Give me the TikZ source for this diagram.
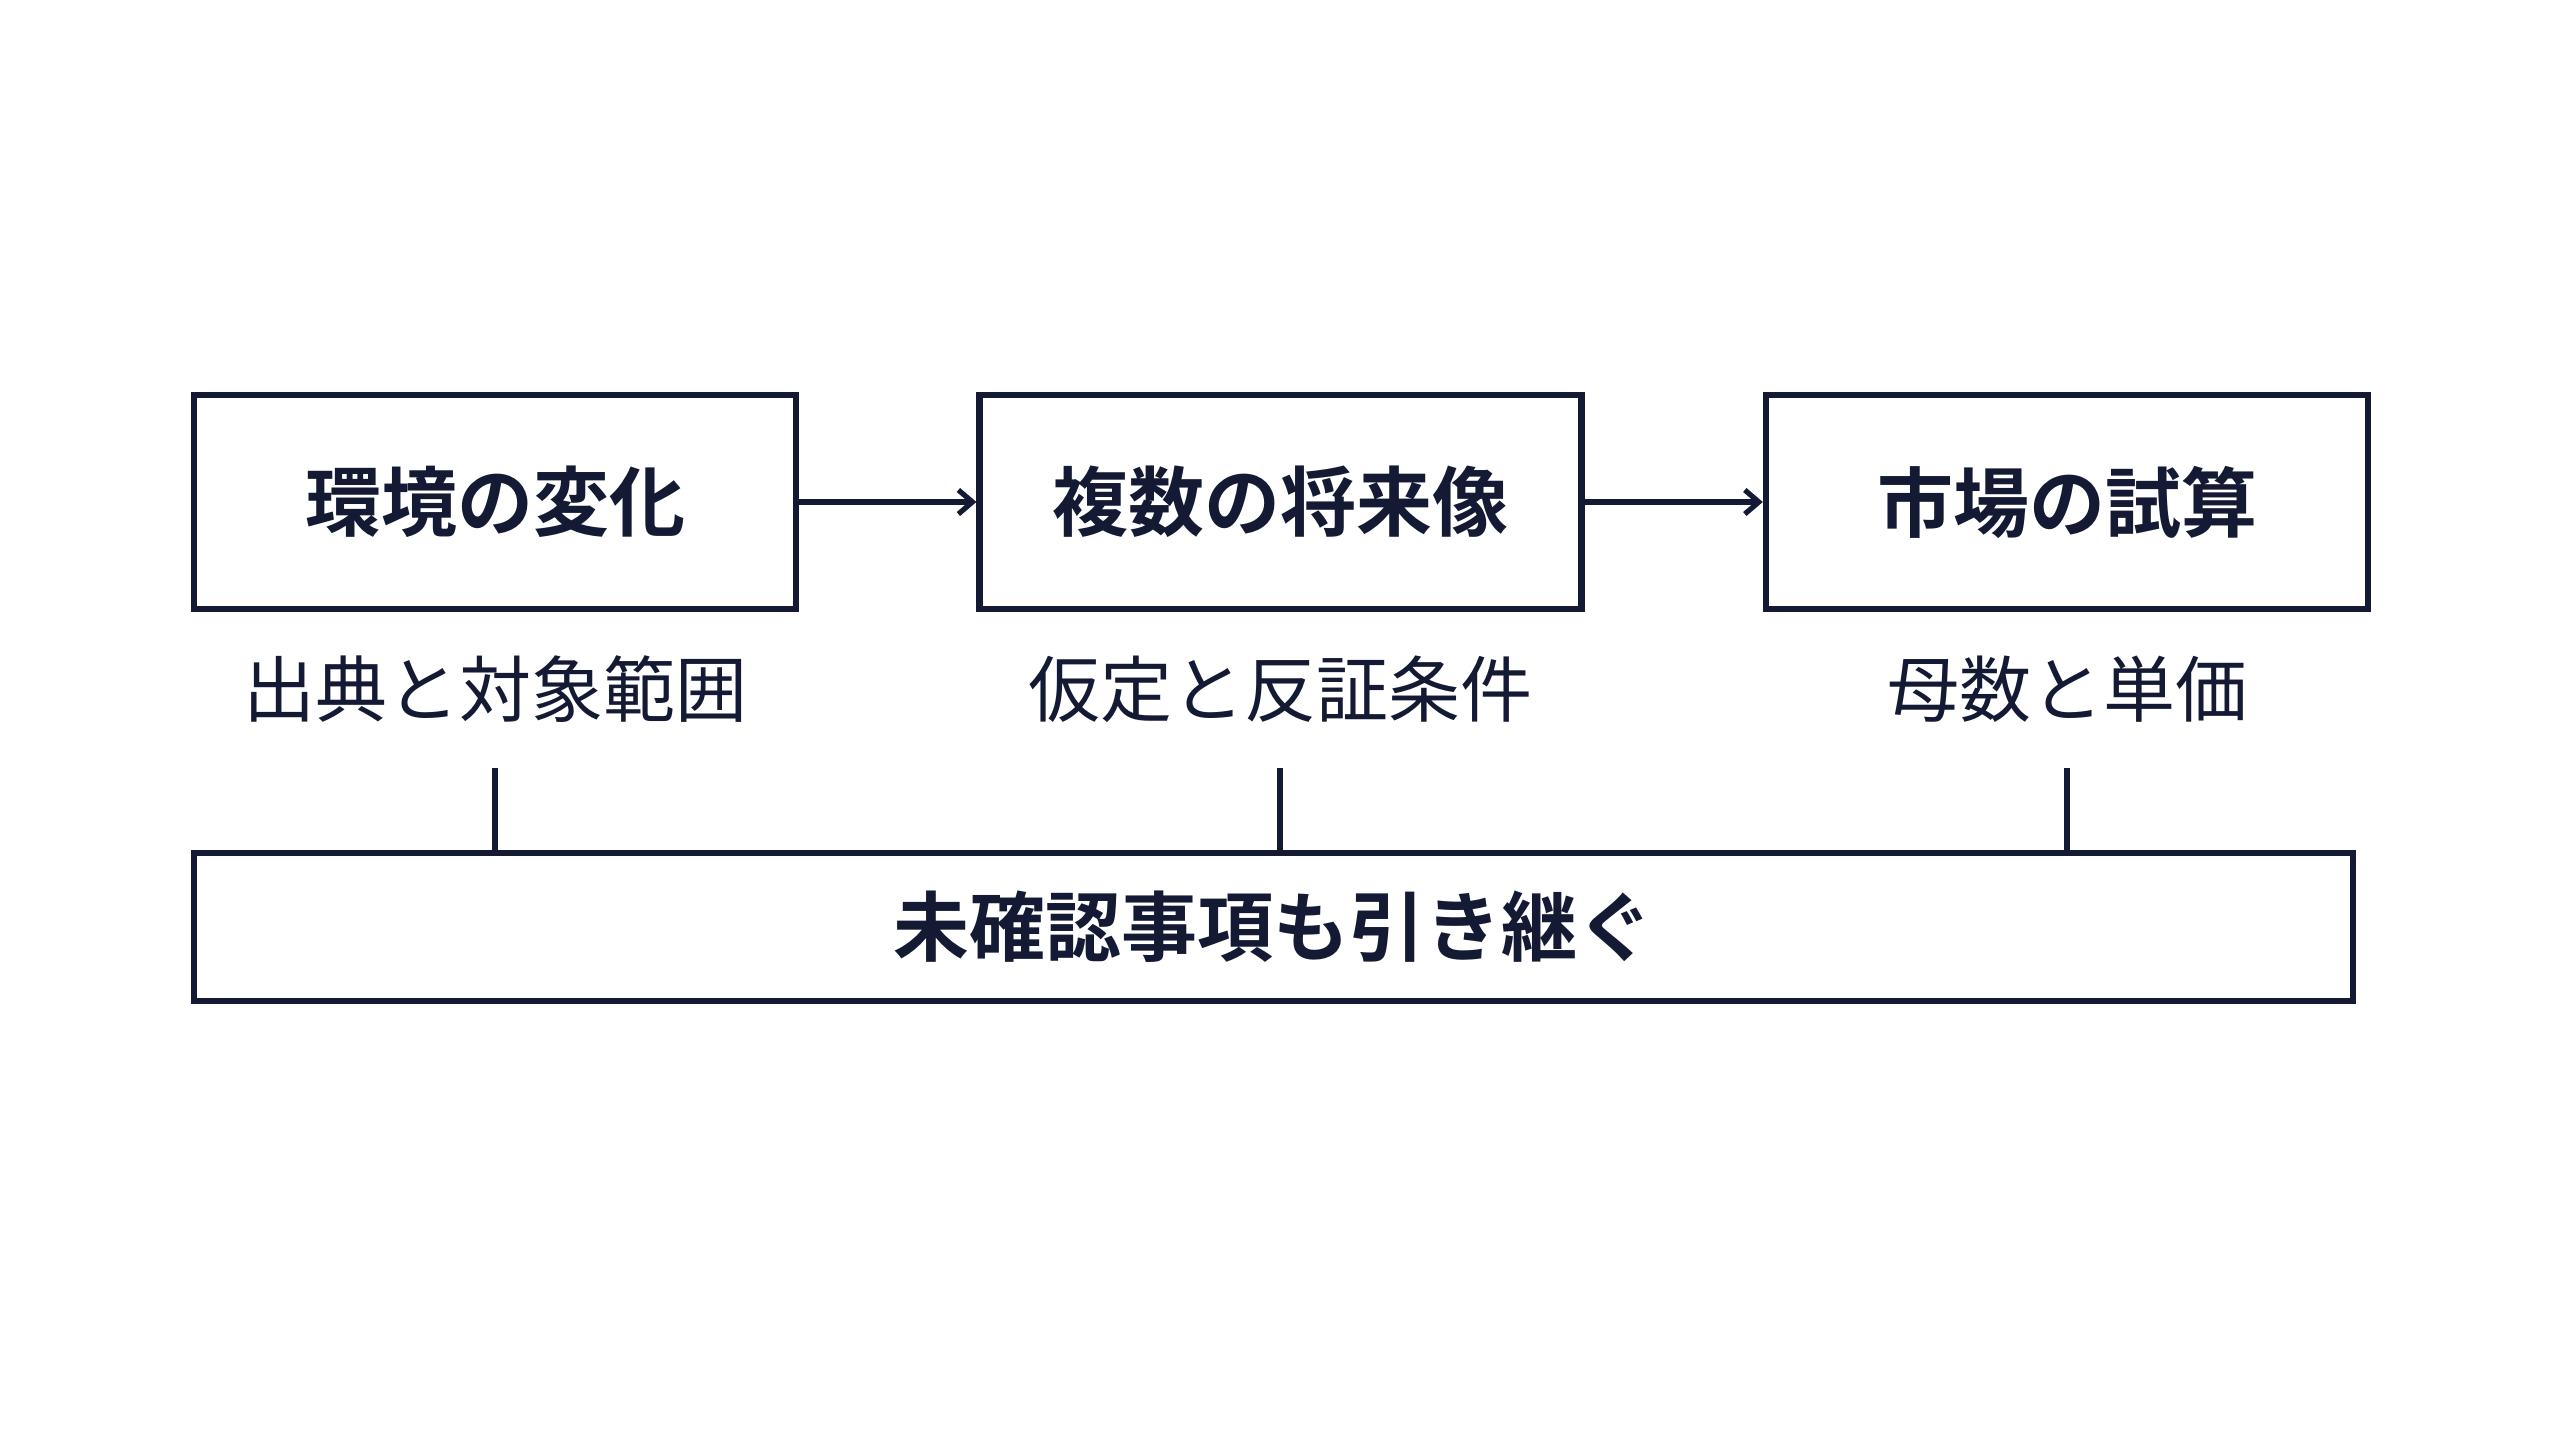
\documentclass[tikz,border=0pt]{standalone}
\usetikzlibrary{arrows.meta}
\usepackage{fontspec}
\setmainfont{Noto Sans CJK JP}
\newfontfamily\cjkb{Noto Sans CJK JP Bold}
\definecolor{ink}{HTML}{141A33}
\begin{document}
\begin{tikzpicture}[x=0.5pt,y=-0.5pt,
  box/.style={draw=ink,line width=3.2pt,minimum width=0.5pt*\bw,minimum height=107pt,inner sep=0pt,text=ink,font=\cjkb\fontsize{38}{46}\selectfont},
  lab/.style={text=ink,font=\fontsize{36}{44}\selectfont,inner sep=0pt},
  conn/.style={draw=ink,line width=3pt},
  arr/.style={conn,-{Straight Barb[length=7pt,width=12pt,line width=2.6pt]}}]
\useasboundingbox (0,0) rectangle (2560,1429);
\def\bw{602}
\node[box] (a) at (495,502) {環境の変化};
\node[box] (b) at (1280.6,502) {複数の将来像};
\node[box] (c) at (2067,502) {市場の試算};
\def\bw{2159}
\node[box,minimum height=74pt] (d) at (1273.6,927) {未確認事項も引き継ぐ};
\node[lab] (la) at (495,689) {出典と対象範囲};
\node[lab] (lb) at (1280,689) {仮定と反証条件};
\node[lab] (lc) at (2067,689) {母数と単価};
\draw[arr] (a.east) -- (b.west);
\draw[arr] (b.east) -- (c.west);
\coordinate (ta) at (495,768);
\coordinate (tb) at (1280,768);
\coordinate (tc) at (2067,768);
\draw[conn] (ta) -- (ta |- d.north);
\draw[conn] (tb) -- (tb |- d.north);
\draw[conn] (tc) -- (tc |- d.north);
\end{tikzpicture}
\end{document}
